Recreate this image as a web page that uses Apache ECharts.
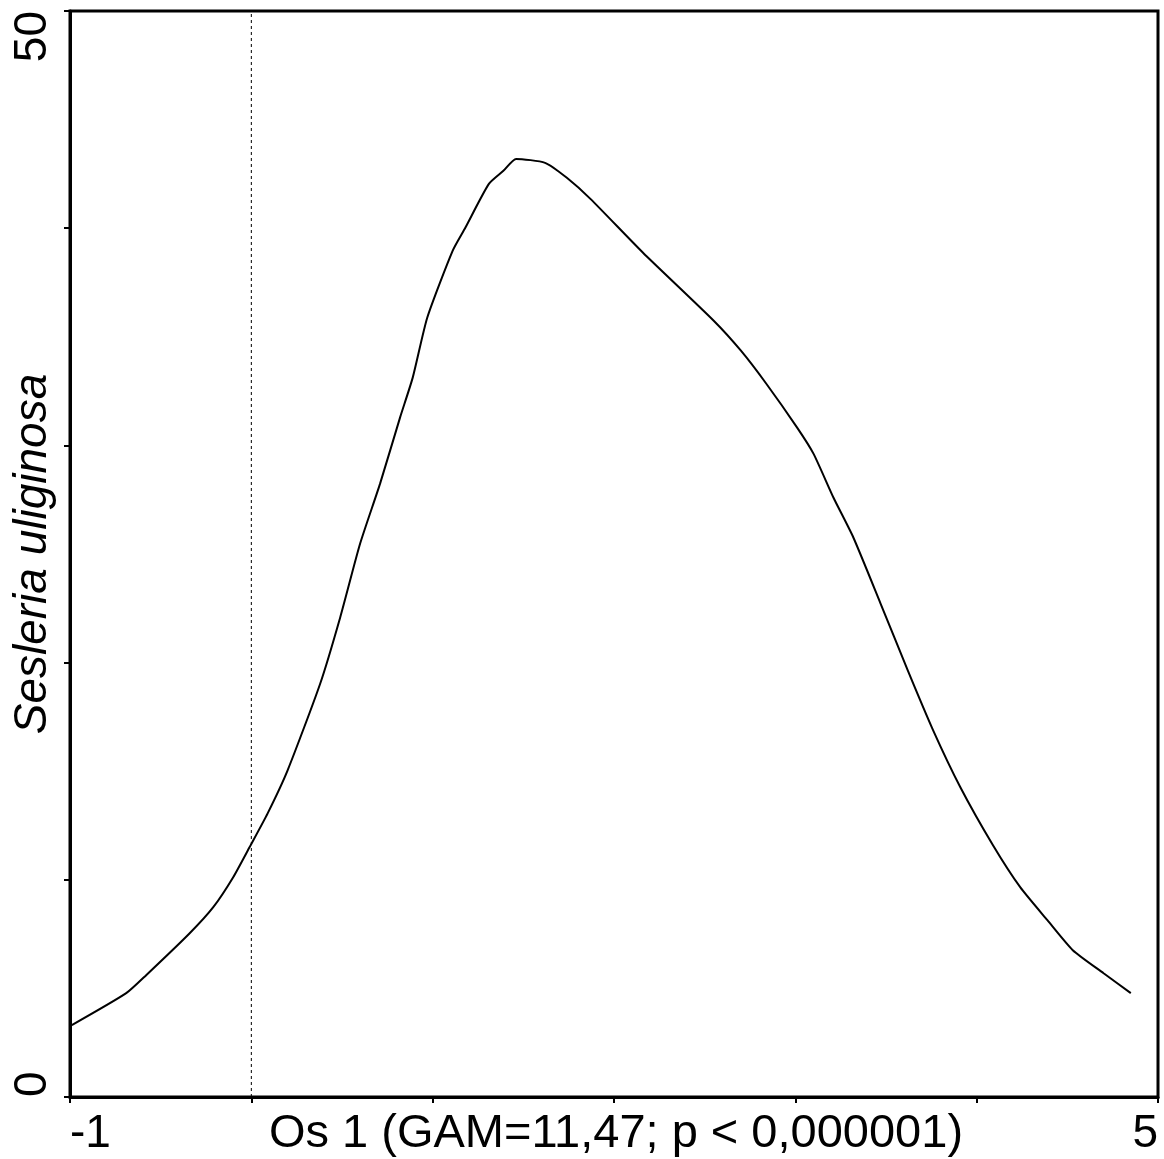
<!DOCTYPE html>
<html>
<head>
<meta charset="utf-8">
<script src="https://cdn.jsdelivr.net/npm/echarts@6/dist/echarts.min.js"></script>
<style>
  html, body { margin: 0; padding: 0; background: #fff; }
  #chart { width: 1164px; height: 1159px; }
</style>
</head>
<body>
<div id="chart"></div>
<script>
// osa 1 (hodnoty na ose x) a odezva druhu
const osValues = [-0.99, -0.69, -0.58, -0.34, -0.21, -0.10, -0.01, 0.09, 0.20, 0.38,
  0.49, 0.60, 0.71, 0.82, 0.89, 0.97, 1.11, 1.18, 1.31, 1.39, 1.46, 1.62, 1.74, 1.87,
  2.16, 2.55, 2.70, 2.84, 3.01, 3.10, 3.21, 3.32, 3.47, 3.62, 3.76, 3.91, 4.09, 4.24,
  4.39, 4.53, 4.70, 4.85];
const abundance = [3.31, 4.78, 5.61, 7.54, 8.74, 10.12, 11.50, 13.06, 15.04, 19.04,
  22.08, 25.48, 28.24, 31.28, 33.12, 35.88, 38.96, 40.02, 42.04, 42.64, 43.19, 43.01, 42.32, 41.35,
  38.87, 35.74, 34.36, 32.84, 30.82, 29.62, 27.60, 25.76, 22.72, 19.64, 16.88, 14.26, 11.59, 9.66,
  8.14, 6.76, 5.70, 4.78];
const xLabels = [-1, 5];
const yLabels = [0, 50];
// svisla carkovana cara v x = 0
const dashedX = [0, 0];
const dashedY = [0, 50];

const font = 'Liberation Sans, Arial, sans-serif';
const chart = echarts.init(document.getElementById('chart'));

const option = {
  animation: false,
  backgroundColor: '#fff',
  grid: {
    left: 70, right: 6, top: 11, bottom: 62,
    containLabel: false,
    outerBoundsMode: 'none',
    show: true,
    borderColor: '#000',
    borderWidth: 3
  },
  xAxis: {
    type: 'value',
    min: -1, max: 5, interval: 1,
    name: 'Os 1 (GAM=11,47; p < 0,000001)',
    nameLocation: 'middle',
    nameMoveOverlap: false,
    nameGap: 14,
    nameTextStyle: { color: '#000', fontSize: 47, fontFamily: font, verticalAlign: 'top', padding: [0, 0, 0, 4] },
    axisLine: { onZero: false, lineStyle: { color: '#000', width: 3 } },
    axisTick: { length: 6, lineStyle: { color: '#000', width: 2 } },
    splitLine: { show: false },
    axisLabel: {
      color: '#000', fontSize: 46, fontFamily: font, margin: 14,
      alignMinLabel: 'left', alignMaxLabel: 'right',
      formatter: v => xLabels.includes(v) ? String(v) : ''
    }
  },
  yAxis: {
    type: 'value',
    min: 0, max: 50, interval: 10,
    name: 'Sesleria uliginosa',
    nameLocation: 'middle',
    nameMoveOverlap: false,
    nameRotate: 90,
    nameGap: 14,
    nameTextStyle: { color: '#000', fontSize: 46, fontFamily: font, fontStyle: 'italic', verticalAlign: 'bottom' },
    axisLine: { onZero: false, lineStyle: { color: '#000', width: 3 } },
    axisTick: { length: 6, lineStyle: { color: '#000', width: 2 } },
    splitLine: { show: false },
    axisLabel: {
      color: '#000', fontSize: 46, fontFamily: font, margin: 14, rotate: 90,
      alignMinLabel: 'left', alignMaxLabel: 'right',
      formatter: v => yLabels.includes(v) ? String(v) : ''
    }
  },
  series: [
    {
      type: 'line',
      data: dashedX.map((x, i) => [x, dashedY[i]]),
      symbol: 'none',
      silent: true,
      lineStyle: { color: '#000', width: 1, type: [3, 3] },
      z: 1
    },
    {
      type: 'line',
      data: osValues.map((x, i) => [x, abundance[i]]),
      symbol: 'none',
      smooth: 0.2,
      lineStyle: { color: '#000', width: 2 },
      z: 2
    }
  ]
};

chart.setOption(option);
window.addEventListener('resize', chart.resize);
</script>
</body>
</html>
